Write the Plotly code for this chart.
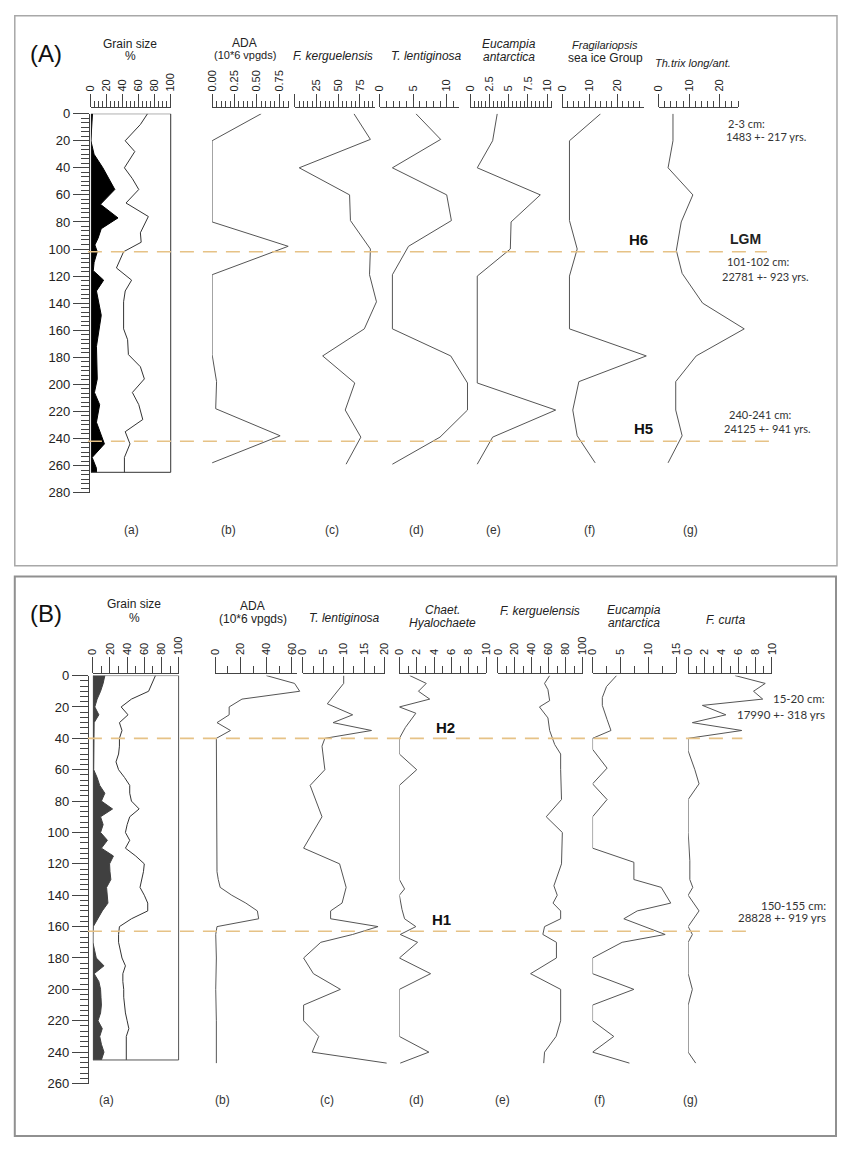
import plotly.graph_objects as go

# The page keeps the browser's default 8px body margin, so the figure is made 16px
# smaller and every reference pixel position is shifted by that margin.
OX, OY = 8, 8
FW, FH = 834, 1137
def px(x): return (x - OX) / FW
def py(y): return 1 - (y - OY) / FH

# ---------------- Panel A data (depth in cm) ----------------
gsA_depth = [0, 8, 20, 28, 40, 48, 56, 66, 76, 88, 95, 102, 114, 123, 131, 139, 159, 167, 178, 187, 196, 206, 215, 226, 235, 244, 254, 265]
gsA_coarse = [71, 62, 43, 55, 42, 52, 60, 44, 72, 62, 63, 41, 32, 51, 43, 41, 41, 46, 47, 62, 67, 52, 60, 65, 43, 49, 42, 42]
gsA_fine_depth = [0, 10, 20, 30, 40, 56, 67, 77, 85, 92, 97, 102, 110, 116, 123, 131, 149, 172, 196, 206, 215, 228, 244, 254, 262, 265]
gsA_fine = [2, 1, 0, 4, 15, 30, 12, 34, 13, 9, 5, 8, 4, 3, 16, 7, 13, 7, 8, 4.5, 11, 7, 17, 1.6, 7, 7]

adaA_depth = [0, 20, 80, 98, 119, 178, 198, 218, 238, 258]
adaA = [0.55, 0, 0, 0.85, 0, 0, 0.05, 0.04, 0.76, 0]

fkA_depth = [0, 19, 40, 60, 79, 100, 119, 139, 159, 179, 199, 219, 239, 259]
fkA = [68, 87, 5, 63, 64, 87, 86, 94, 80, 32, 69, 58, 76, 59]

tlA_depth = [0, 19, 40, 60, 79, 98, 119, 139, 159, 179, 199, 219, 239, 259]
tlA = [5.4, 9.1, 1.9, 10, 10.7, 4.3, 1.9, 1.9, 1.9, 10.6, 13.1, 13.1, 9, 1.9]

euA_depth = [0, 20, 40, 60, 80, 100, 120, 199, 219, 239, 259]
euA = [3.5, 2.9, 0.9, 9.1, 5.3, 5.2, 0.9, 0.9, 11.1, 2.9, 0.9]

frA_depth = [0, 20, 79, 100, 120, 159, 179, 198, 219, 238, 258]
frA = [14, 2.7, 2.7, 5.5, 2.7, 2.7, 30.5, 6.1, 3.9, 5.5, 12]

thA_depth = [0, 20, 40, 60, 80, 101, 118, 140, 159, 179, 198, 219, 238, 258]
thA = [4.7, 4.7, 3.1, 11.2, 7.4, 5.8, 7.7, 14.4, 28, 12.3, 5.6, 5.6, 7.7, 3.1]

# ---------------- Panel B data ----------------
gsB_depth = [0, 5, 10, 15, 20, 25, 30, 35, 40, 45, 50, 55, 60, 65, 70, 75, 80, 85, 90, 95, 100, 105, 110, 115, 120,
             125, 130, 135, 140, 145, 150, 155, 160, 165, 170, 175, 180, 185, 190, 195, 200, 205, 210, 215, 220, 225, 230, 235, 240, 245]
gsB_coarse = [73, 69, 65, 45, 33, 41, 31, 34, 31, 31, 30, 27, 30, 37, 43, 43, 45, 54, 43, 40, 38, 43, 38, 50, 60,
              59, 57, 55, 60, 64, 64, 45, 31, 30, 30, 32, 34, 38, 35, 35, 36, 36, 37, 38, 40, 42, 39, 39, 39, 39]
gsB_fine = [14, 12, 9, 5, 2.3, 7, 1.5, 1.5, 1.5, 1.5, 1.5, 1, 1, 5, 8, 14, 10, 23, 9, 12, 9, 17, 10, 24, 19.5,
            20, 21, 16, 17, 17.6, 11, 6, 0.5, 0, 0, 2, 4, 13, 1.5, 7, 9, 9.5, 10, 9, 6, 11, 8, 10, 13, 10]

adaB_depth = [0, 5, 10, 15, 20, 25, 30, 35, 40, 60, 80, 100, 120, 125, 130, 135, 140, 145, 150, 155, 160, 165, 180, 200, 220, 247]
adaB = [40, 62, 66, 21, 11, 11, 1.5, 12, 1, 1, 1, 1, 1, 1.5, 2.5, 4, 13, 24, 33, 34, 1.5, 0.5, 1, 0.5, 1, 1]

tlB_depth = [0, 5, 18, 25, 30, 35, 40, 45, 60, 70, 90, 110, 120, 135, 145, 150, 155, 160, 165, 170, 180, 190, 200, 210, 220, 230, 240, 247]
tlB = [10, 10, 6, 12.2, 7.4, 16.8, 5.4, 4.7, 5.4, 1.8, 4.7, 0.2, 9, 10.6, 9.6, 6.8, 6.8, 18.4, 12.2, 4.4, 0.2, 2.6, 9.2, 0.2, 0.2, 3.9, 2.3, 20.5]

chB_depth = [0, 5, 10, 15, 20, 24, 33, 40, 50, 60, 70, 130, 136, 140, 149, 155, 160, 165, 170, 180, 190, 200, 230, 240, 247]
chB = [1.2, 3.1, 2.2, 3.5, 0, 1.9, 0.7, 0, 0, 2, 0, 0, 0.6, 0, 0.3, 0.6, 1.9, 0.1, 2.1, 0, 3.6, 0, 0, 3.4, 0.1]

fkB_depth = [0, 5, 9, 16, 20, 27, 35, 44, 50, 60, 79, 90, 100, 120, 134, 140, 145, 150, 155, 160, 165, 170, 180, 190, 200, 220, 230, 240, 247]
fkB = [61, 55, 59, 61, 49, 59, 61, 67, 74, 74, 75, 57, 76, 75, 66, 70, 65, 74, 74, 55, 53, 69, 69, 38.5, 74, 74, 68.6, 55, 54]

euB_depth = [0, 7, 14, 19, 28, 35, 40, 47, 59, 69, 79, 90, 110, 119, 130, 135, 145, 150, 155, 165, 170, 180, 190, 200, 210, 220, 230, 240, 247]
euB = [4.3, 2.5, 1.75, 1.75, 2.6, 3.3, 0, 0, 2.6, 0, 2.6, 0, 0, 7.4, 7.4, 12.3, 14, 8, 5.6, 13, 5.3, 0, 0, 7.4, 0, 0, 3.8, 0, 6.6]

fcB_depth = [0, 5, 10, 15, 19, 25, 30, 35, 40, 48, 60, 69, 79, 100, 118, 130, 135, 140, 150, 160, 165, 170, 190, 200, 210, 240, 247]
fcB = [5.6, 9.2, 7.8, 8.9, 1.7, 4.5, 0.5, 6.4, 0, 0, 0.8, 1.3, 0, 0, 0.2, 0.2, 0.55, 0, 1.3, 0, 0.5, 0, 0, 0.5, 0, 0, 0.9]

# tick labels
depthA_ticks = [0, 20, 40, 60, 80, 100, 120, 140, 160, 180, 200, 220, 240, 260, 280]
depthB_ticks = [0, 20, 40, 60, 80, 100, 120, 140, 160, 180, 200, 220, 240, 260]

FONT = "Liberation Sans"
AXC = "#444444"
LINEC = "#555555"

fig = go.Figure()
layout = {}
shapes = []
annotations = []
counter = [0]

def axname(n):
    return ("xaxis" if n == 1 else f"xaxis{n}"), ("x" if n == 1 else f"x{n}")

def add_column(x0, x1, vmax, tickvals, ticktext, minor_dtick, axis_y, yref, maj_len, min_len, series, ext=40):
    counter[0] += 1
    vis_key, vis_ref = axname(counter[0])
    layout[vis_key] = dict(
        domain=[px(x0), px(x1)], range=[0, vmax], anchor="free", position=py(axis_y), side="top",
        showline=True, linecolor=AXC, linewidth=1, ticks="outside", ticklen=maj_len, tickwidth=1,
        tickcolor=AXC, tickmode="array", tickvals=tickvals, ticktext=ticktext, tickangle=-90,
        tickfont=dict(family=FONT, size=11, color="#222"),
        minor=dict(ticks="outside", ticklen=min_len, tickmode="linear", tick0=0, dtick=minor_dtick,
                   tickcolor=AXC, tickwidth=1, showgrid=False),
        showgrid=False, zeroline=False, fixedrange=True)
    fig.add_trace(go.Scatter(x=[None], y=[None], xaxis=vis_ref, yaxis=yref, showlegend=False, hoverinfo="skip"))
    counter[0] += 1
    dat_key, dat_ref = axname(counter[0])
    layout[dat_key] = dict(domain=[px(x0), px(x1 + ext)], range=[0, vmax * (x1 + ext - x0) / (x1 - x0)],
                           visible=False, anchor=yref, fixedrange=True)
    for s in series:
        fig.add_trace(go.Scatter(xaxis=dat_ref, yaxis=yref, showlegend=False, hoverinfo="skip", **s))
    return dat_ref

# ---------------- Panel A columns ----------------
AY = 101
gA = add_column(86, 167, 100, [0, 20, 40, 60, 80, 100], ["0", "20", "40", "60", "80", "100"], 5, AY, "y", 13, 6, [
    dict(x=gsA_fine, y=gsA_fine_depth, mode="lines", fill="tozerox", fillcolor="#000000", line=dict(color="#000000", width=1)),
    dict(x=gsA_coarse, y=gsA_depth, mode="lines", line=dict(color="#333333", width=1)),
])
add_column(209, 287, 0.859, [0, 0.25, 0.5, 0.75], ["0.00", "0.25", "0.50", "0.75"], 0.05, AY, "y", 13, 6, [
    dict(x=adaA, y=adaA_depth, mode="lines", line=dict(color=LINEC, width=1))])
add_column(293, 374, 92, [0, 25, 50, 75], ["", "25", "50", "75"], 5, AY, "y", 13, 6, [
    dict(x=fkA, y=fkA_depth, mode="lines", line=dict(color=LINEC, width=1))])
add_column(379, 459, 11.76, [0, 5, 10], ["0", "5", "10"], 1, AY, "y", 13, 6, [
    dict(x=tlA, y=tlA_depth, mode="lines", line=dict(color=LINEC, width=1))])
add_column(471, 554, 10.64, [0, 2.5, 5, 7.5, 10], ["0", "2.5", "5", "7.5", "10"], 0.5, AY, "y", 13, 6, [
    dict(x=euA, y=euA_depth, mode="lines", line=dict(color=LINEC, width=1))])
add_column(564, 647, 29.6, [0, 10, 20], ["0", "10", "20"], 2, AY, "y", 13, 6, [
    dict(x=frA, y=frA_depth, mode="lines", line=dict(color=LINEC, width=1))])
add_column(662, 743, 26.1, [0, 10, 20], ["0", "10", "20"], 2, AY, "y", 13, 6, [
    dict(x=thA, y=thA_depth, mode="lines", line=dict(color=LINEC, width=1))])

# ---------------- Panel B columns ----------------
BY = 675
gB = add_column(88, 175, 100, [0, 20, 40, 60, 80, 100], ["0", "20", "40", "60", "80", "100"], 10, BY, "y2", 16, 7, [
    dict(x=gsB_fine, y=gsB_depth, mode="lines", fill="tozerox", fillcolor="#404040", line=dict(color="#404040", width=1)),
    dict(x=gsB_coarse, y=gsB_depth, mode="lines", line=dict(color="#333333", width=1)),
])
add_column(212, 295, 63.8, [0, 20, 40, 60], ["0", "20", "40", "60"], 10, BY, "y2", 16, 7, [
    dict(x=adaB, y=adaB_depth, mode="lines", line=dict(color=LINEC, width=1))])
add_column(301, 384, 20, [0, 5, 10, 15, 20], ["0", "5", "10", "15", "20"], 2.5, BY, "y2", 16, 7, [
    dict(x=tlB, y=tlB_depth, mode="lines", line=dict(color=LINEC, width=1))])
add_column(399, 487, 10, [0, 2, 4, 6, 8, 10], ["0", "2", "4", "6", "8", "10"], 1, BY, "y2", 16, 7, [
    dict(x=chB, y=chB_depth, mode="lines", line=dict(color=LINEC, width=1))])
add_column(499, 585, 100, [0, 20, 40, 60, 80, 100], ["0", "20", "40", "60", "80", "100"], 10, BY, "y2", 16, 7, [
    dict(x=fkB, y=fkB_depth, mode="lines", line=dict(color=LINEC, width=1))])
add_column(595, 680, 15, [0, 5, 10, 15], ["0", "5", "10", "15"], 2.5, BY, "y2", 16, 7, [
    dict(x=euB, y=euB_depth, mode="lines", line=dict(color=LINEC, width=1))])
add_column(692, 777, 10, [0, 2, 4, 6, 8, 10], ["0", "2", "4", "6", "8", "10"], 1, BY, "y2", 16, 7, [
    dict(x=fcB, y=fcB_depth, mode="lines", line=dict(color=LINEC, width=1))])

# ---------------- depth axes ----------------
def depth_axis(top_px, bottom_px, dmax, xpos, ticks):
    return dict(domain=[py(bottom_px), py(top_px)], range=[dmax, 0], anchor="free", position=px(xpos),
                side="left", showline=True, linecolor=AXC, linewidth=1, ticks="outside", ticklen=16,
                tickcolor=AXC, tickwidth=1, tickmode="array", tickvals=ticks, ticktext=[str(t) for t in ticks],
                tickfont=dict(family=FONT, size=13, color="#222"),
                minor=dict(ticks="outside", ticklen=8, tickmode="linear", tick0=0, dtick=20 / 6,
                           tickcolor=AXC, tickwidth=1, showgrid=False),
                showgrid=False, zeroline=False, fixedrange=True)

layout["yaxis"] = depth_axis(108, 492, 280, 84, depthA_ticks)
layout["yaxis2"] = depth_axis(677.4, 1090.8, 260, 83, depthB_ticks)

# grain size boxes
shapes.append(dict(type="rect", xref=gA, yref="y", x0=0, x1=100, y0=0, y1=265, line=dict(color="#333", width=1)))
shapes.append(dict(type="rect", xref=gB, yref="y2", x0=0, x1=100, y0=0, y1=245, line=dict(color="#555", width=1)))

# panel frames
shapes.append(dict(type="rect", xref="paper", yref="paper", x0=px(8.8), x1=px(843), y0=py(566), y1=py(8.8),
                   line=dict(color="#a8a8a8", width=1.5)))
shapes.append(dict(type="rect", xref="paper", yref="paper", x0=px(8.8), x1=px(842), y0=py(1144), y1=py(577),
                   line=dict(color="#909090", width=2)))

# dashed horizon lines
DASHC = "#E6C286"
for yref, d, xa, xb in [("y", 102, 83, 772), ("y", 242, 83, 778), ("y2", 40, 83, 747), ("y2", 163, 83, 752)]:
    shapes.append(dict(type="line", xref="paper", yref=yref, x0=px(xa), x1=px(xb), y0=d, y1=d,
                       line=dict(color=DASHC, width=1.6, dash="14px,9px")))

def ann(text, x, y, size=12, color="#222", family=FONT, xanchor="center"):
    annotations.append(dict(text=text, x=px(x), y=py(y), xref="paper", yref="paper", showarrow=False,
                            xanchor=xanchor, yanchor="middle", font=dict(size=size, color=color, family=family)))

# panel letters
ann("(A)", 40, 47, size=24, color="#111")
ann("(B)", 40, 615, size=24, color="#111")

# panel A titles
ann("Grain size", 126, 37, 12)
ann("%", 126, 50, 12)
ann("ADA", 242, 36, 12)
ann("(10*6 vpgds)", 242, 49, 11)
ann("<i>F. kerguelensis</i>", 332, 50, 12)
ann("<i>T. lentiginosa</i>", 427, 50, 12)
ann("<i>Eucampia</i>", 510, 37, 12)
ann("<i>antarctica</i>", 510, 51, 12)
ann("<i>Fragilariopsis</i>", 608, 38, 11)
ann("sea ice Group", 608, 52, 12)
ann("<i>Th.trix long/ant.</i>", 697, 57, 11)

# panel B titles
ann("Grain size", 130, 605, 12)
ann("%", 130, 619, 12)
ann("ADA", 250, 607, 12)
ann("(10*6 vpgds)", 250, 620, 12)
ann("<i>T. lentiginosa</i>", 343, 619, 12)
ann("<i>Chaet.</i>", 443, 611, 12)
ann("<i>Hyalochaete</i>", 443, 624, 12)
ann("<i>F. kerguelensis</i>", 542, 612, 12)
ann("<i>Eucampia</i>", 637, 611, 12)
ann("<i>antarctica</i>", 637, 624, 12)
ann("<i>F. curta</i>", 730, 621, 12)

# column letters
for lab, x in zip(["(a)", "(b)", "(c)", "(d)", "(e)", "(f)", "(g)"], [127, 226, 331, 416, 494, 592, 694]):
    ann(lab, x, 530, 12, "#333")
for lab, x in zip(["(a)", "(b)", "(c)", "(d)", "(e)", "(f)", "(g)"], [102, 220, 326, 416, 504, 602, 694]):
    ann(lab, x, 1107, 12, "#333")

# event labels and dates
DF = "Lato"
ann("<b>H6</b>", 642, 235, 15, "#111")
ann("<b>LGM</b>", 750, 235, 14, "#222")
ann("<b>H5</b>", 647, 427, 15, "#111")
ann("<b>H2</b>", 446, 730, 15, "#111")
ann("<b>H1</b>", 442, 925, 15, "#111")

ann("2-3 cm:", 730, 118, 11, "#333", DF, "left")
ann("1483 +- 217 yrs.", 728, 131, 11, "#333", DF, "left")
ann("101-102 cm:", 763, 258, 11, "#333", DF)
ann("22781 +- 923 yrs.", 770, 273, 11, "#333", DF)
ann("240-241 cm:", 765, 413, 11, "#333", DF)
ann("24125 +- 941 yrs.", 773, 427, 11, "#333", DF)
ann("15-20 cm:", 833, 701, 11.5, "#333", DF, "right")
ann("17990 +- 318 yrs", 833, 717, 11.5, "#333", DF, "right")
ann("150-155 cm:", 834, 910, 11.5, "#333", DF, "right")
ann("28828 +- 919 yrs", 834, 923, 11.5, "#333", DF, "right")

fig.update_layout(
    width=FW, height=FH, autosize=False,
    margin=dict(l=0, r=0, t=0, b=0),
    paper_bgcolor="white", plot_bgcolor="rgba(0,0,0,0)",
    showlegend=False, shapes=shapes, annotations=annotations,
    font=dict(family=FONT, color="#222"),
    **layout,
)

fig.write_html("out.html", config={"displayModeBar": False})
